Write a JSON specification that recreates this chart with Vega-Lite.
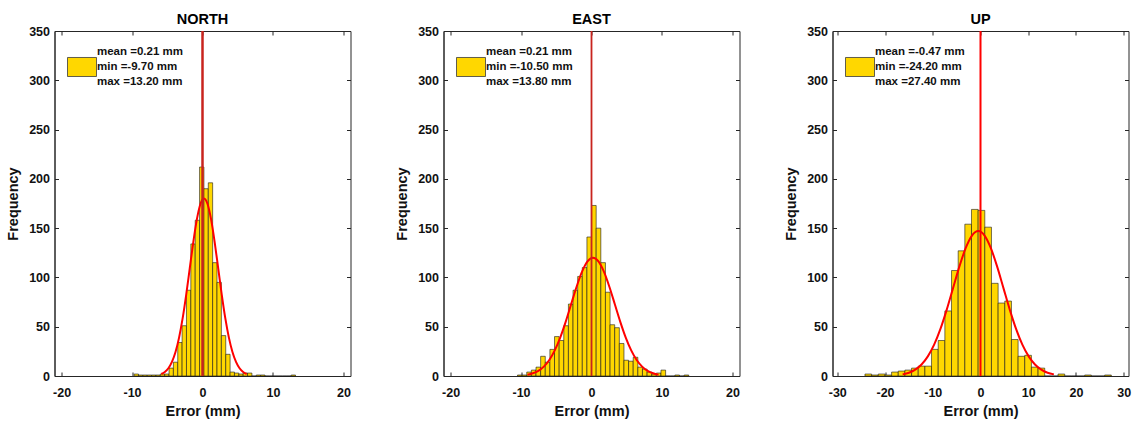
{
  "$schema": "https://vega.github.io/schema/vega-lite/v6.json",
  "padding": {"left": 4.5, "top": 11, "right": 0, "bottom": 0},
  "background": "white",
  "spacing": 42,
  "datasets": {
    "stats": [
      {"p": "NORTH", "label": "mean =0.21 mm|min =-9.70 mm|max =13.20 mm"},
      {"p": "EAST", "label": "mean =0.21 mm|min =-10.50 mm|max =13.80 mm"},
      {"p": "UP", "label": "mean =-0.47 mm|min =-24.20 mm|max =27.40 mm"}
    ],
    "bars": [
      {"p":"NORTH","x0":-9.700,"x1":-9.081,"n":2},
      {"p":"NORTH","x0":-9.081,"x1":-8.462,"n":1},
      {"p":"NORTH","x0":-8.462,"x1":-7.843,"n":1},
      {"p":"NORTH","x0":-7.843,"x1":-7.224,"n":1},
      {"p":"NORTH","x0":-7.224,"x1":-6.605,"n":1},
      {"p":"NORTH","x0":-6.605,"x1":-5.986,"n":1},
      {"p":"NORTH","x0":-5.986,"x1":-5.368,"n":2},
      {"p":"NORTH","x0":-5.368,"x1":-4.749,"n":2},
      {"p":"NORTH","x0":-4.749,"x1":-4.130,"n":8},
      {"p":"NORTH","x0":-4.130,"x1":-3.511,"n":14},
      {"p":"NORTH","x0":-3.511,"x1":-2.892,"n":34},
      {"p":"NORTH","x0":-2.892,"x1":-2.273,"n":51},
      {"p":"NORTH","x0":-2.273,"x1":-1.654,"n":87},
      {"p":"NORTH","x0":-1.654,"x1":-1.035,"n":134},
      {"p":"NORTH","x0":-1.035,"x1":-0.416,"n":158},
      {"p":"NORTH","x0":-0.416,"x1":0.203,"n":212},
      {"p":"NORTH","x0":0.203,"x1":0.822,"n":190},
      {"p":"NORTH","x0":0.822,"x1":1.441,"n":196},
      {"p":"NORTH","x0":1.441,"x1":2.059,"n":115},
      {"p":"NORTH","x0":2.059,"x1":2.678,"n":95},
      {"p":"NORTH","x0":2.678,"x1":3.297,"n":41},
      {"p":"NORTH","x0":3.297,"x1":3.916,"n":22},
      {"p":"NORTH","x0":3.916,"x1":4.535,"n":4},
      {"p":"NORTH","x0":4.535,"x1":5.154,"n":3},
      {"p":"NORTH","x0":5.154,"x1":5.773,"n":2},
      {"p":"NORTH","x0":5.773,"x1":6.392,"n":3},
      {"p":"NORTH","x0":6.392,"x1":7.011,"n":3},
      {"p":"NORTH","x0":7.011,"x1":7.630,"n":0},
      {"p":"NORTH","x0":7.630,"x1":8.249,"n":1},
      {"p":"NORTH","x0":8.249,"x1":8.868,"n":1},
      {"p":"NORTH","x0":8.868,"x1":9.486,"n":0},
      {"p":"NORTH","x0":9.486,"x1":10.105,"n":0},
      {"p":"NORTH","x0":10.105,"x1":10.724,"n":0},
      {"p":"NORTH","x0":10.724,"x1":11.343,"n":0},
      {"p":"NORTH","x0":11.343,"x1":11.962,"n":0},
      {"p":"NORTH","x0":11.962,"x1":12.581,"n":0},
      {"p":"NORTH","x0":12.581,"x1":13.200,"n":1},
      {"p":"EAST","x0":-10.500,"x1":-9.843,"n":1},
      {"p":"EAST","x0":-9.843,"x1":-9.186,"n":1},
      {"p":"EAST","x0":-9.186,"x1":-8.530,"n":4},
      {"p":"EAST","x0":-8.530,"x1":-7.873,"n":6},
      {"p":"EAST","x0":-7.873,"x1":-7.216,"n":9},
      {"p":"EAST","x0":-7.216,"x1":-6.559,"n":20},
      {"p":"EAST","x0":-6.559,"x1":-5.903,"n":14},
      {"p":"EAST","x0":-5.903,"x1":-5.246,"n":27},
      {"p":"EAST","x0":-5.246,"x1":-4.589,"n":40},
      {"p":"EAST","x0":-4.589,"x1":-3.932,"n":36},
      {"p":"EAST","x0":-3.932,"x1":-3.276,"n":51},
      {"p":"EAST","x0":-3.276,"x1":-2.619,"n":73},
      {"p":"EAST","x0":-2.619,"x1":-1.962,"n":87},
      {"p":"EAST","x0":-1.962,"x1":-1.305,"n":101},
      {"p":"EAST","x0":-1.305,"x1":-0.649,"n":110},
      {"p":"EAST","x0":-0.649,"x1":0.008,"n":141},
      {"p":"EAST","x0":0.008,"x1":0.665,"n":173},
      {"p":"EAST","x0":0.665,"x1":1.322,"n":150},
      {"p":"EAST","x0":1.322,"x1":1.978,"n":115},
      {"p":"EAST","x0":1.978,"x1":2.635,"n":85},
      {"p":"EAST","x0":2.635,"x1":3.292,"n":52},
      {"p":"EAST","x0":3.292,"x1":3.949,"n":49},
      {"p":"EAST","x0":3.949,"x1":4.605,"n":33},
      {"p":"EAST","x0":4.605,"x1":5.262,"n":16},
      {"p":"EAST","x0":5.262,"x1":5.919,"n":15},
      {"p":"EAST","x0":5.919,"x1":6.576,"n":19},
      {"p":"EAST","x0":6.576,"x1":7.232,"n":9},
      {"p":"EAST","x0":7.232,"x1":7.889,"n":7},
      {"p":"EAST","x0":7.889,"x1":8.546,"n":4},
      {"p":"EAST","x0":8.546,"x1":9.203,"n":2},
      {"p":"EAST","x0":9.203,"x1":9.859,"n":3},
      {"p":"EAST","x0":9.859,"x1":10.516,"n":6},
      {"p":"EAST","x0":10.516,"x1":11.173,"n":0},
      {"p":"EAST","x0":11.173,"x1":11.830,"n":0},
      {"p":"EAST","x0":11.830,"x1":12.486,"n":1},
      {"p":"EAST","x0":12.486,"x1":13.143,"n":0},
      {"p":"EAST","x0":13.143,"x1":13.800,"n":1},
      {"p":"UP","x0":-24.200,"x1":-22.805,"n":2},
      {"p":"UP","x0":-22.805,"x1":-21.411,"n":1},
      {"p":"UP","x0":-21.411,"x1":-20.016,"n":2},
      {"p":"UP","x0":-20.016,"x1":-18.622,"n":1},
      {"p":"UP","x0":-18.622,"x1":-17.227,"n":4},
      {"p":"UP","x0":-17.227,"x1":-15.832,"n":5},
      {"p":"UP","x0":-15.832,"x1":-14.438,"n":6},
      {"p":"UP","x0":-14.438,"x1":-13.043,"n":8},
      {"p":"UP","x0":-13.043,"x1":-11.649,"n":10},
      {"p":"UP","x0":-11.649,"x1":-10.254,"n":10},
      {"p":"UP","x0":-10.254,"x1":-8.859,"n":27},
      {"p":"UP","x0":-8.859,"x1":-7.465,"n":36},
      {"p":"UP","x0":-7.465,"x1":-6.070,"n":66},
      {"p":"UP","x0":-6.070,"x1":-4.676,"n":107},
      {"p":"UP","x0":-4.676,"x1":-3.281,"n":127},
      {"p":"UP","x0":-3.281,"x1":-1.886,"n":154},
      {"p":"UP","x0":-1.886,"x1":-0.492,"n":169},
      {"p":"UP","x0":-0.492,"x1":0.903,"n":168},
      {"p":"UP","x0":0.903,"x1":2.297,"n":151},
      {"p":"UP","x0":2.297,"x1":3.692,"n":94},
      {"p":"UP","x0":3.692,"x1":5.086,"n":74},
      {"p":"UP","x0":5.086,"x1":6.481,"n":76},
      {"p":"UP","x0":6.481,"x1":7.876,"n":37},
      {"p":"UP","x0":7.876,"x1":9.270,"n":20},
      {"p":"UP","x0":9.270,"x1":10.665,"n":21},
      {"p":"UP","x0":10.665,"x1":12.059,"n":9},
      {"p":"UP","x0":12.059,"x1":13.454,"n":8},
      {"p":"UP","x0":13.454,"x1":14.849,"n":0},
      {"p":"UP","x0":14.849,"x1":16.243,"n":0},
      {"p":"UP","x0":16.243,"x1":17.638,"n":2},
      {"p":"UP","x0":17.638,"x1":19.032,"n":0},
      {"p":"UP","x0":19.032,"x1":20.427,"n":0},
      {"p":"UP","x0":20.427,"x1":21.822,"n":0},
      {"p":"UP","x0":21.822,"x1":23.216,"n":1},
      {"p":"UP","x0":23.216,"x1":24.611,"n":0},
      {"p":"UP","x0":24.611,"x1":26.005,"n":0},
      {"p":"UP","x0":26.005,"x1":27.400,"n":1}
    ],
    "curves": [
      {"p":"NORTH","x":-5.85,"y":2.0},{"p":"NORTH","x":-5.345,"y":4.1},{"p":"NORTH","x":-4.84,"y":7.91},{"p":"NORTH","x":-4.335,"y":14.32},{"p":"NORTH","x":-3.83,"y":24.36},{"p":"NORTH","x":-3.325,"y":38.93},{"p":"NORTH","x":-2.82,"y":58.44},{"p":"NORTH","x":-2.315,"y":82.41},{"p":"NORTH","x":-1.81,"y":109.18},{"p":"NORTH","x":-1.305,"y":135.87},{"p":"NORTH","x":-0.8,"y":158.85},{"p":"NORTH","x":-0.295,"y":174.46},{"p":"NORTH","x":0.21,"y":180},{"p":"NORTH","x":0.715,"y":174.46},{"p":"NORTH","x":1.22,"y":158.85},{"p":"NORTH","x":1.725,"y":135.87},{"p":"NORTH","x":2.23,"y":109.18},{"p":"NORTH","x":2.735,"y":82.41},{"p":"NORTH","x":3.24,"y":58.44},{"p":"NORTH","x":3.745,"y":38.93},{"p":"NORTH","x":4.25,"y":24.36},{"p":"NORTH","x":4.755,"y":14.32},{"p":"NORTH","x":5.26,"y":7.91},{"p":"NORTH","x":5.765,"y":4.1},{"p":"NORTH","x":6.27,"y":2.0},
      {"p":"EAST","x":-9.09,"y":1.33},{"p":"EAST","x":-8.315,"y":2.74},{"p":"EAST","x":-7.54,"y":5.27},{"p":"EAST","x":-6.765,"y":9.55},{"p":"EAST","x":-5.99,"y":16.24},{"p":"EAST","x":-5.215,"y":25.95},{"p":"EAST","x":-4.44,"y":38.96},{"p":"EAST","x":-3.665,"y":54.94},{"p":"EAST","x":-2.89,"y":72.78},{"p":"EAST","x":-2.115,"y":90.58},{"p":"EAST","x":-1.34,"y":105.9},{"p":"EAST","x":-0.565,"y":116.31},{"p":"EAST","x":0.21,"y":120},{"p":"EAST","x":0.985,"y":116.31},{"p":"EAST","x":1.76,"y":105.9},{"p":"EAST","x":2.535,"y":90.58},{"p":"EAST","x":3.31,"y":72.78},{"p":"EAST","x":4.085,"y":54.94},{"p":"EAST","x":4.86,"y":38.96},{"p":"EAST","x":5.635,"y":25.95},{"p":"EAST","x":6.41,"y":16.24},{"p":"EAST","x":7.185,"y":9.55},{"p":"EAST","x":7.96,"y":5.27},{"p":"EAST","x":8.735,"y":2.74},{"p":"EAST","x":9.51,"y":1.33},
      {"p":"UP","x":-16.31,"y":1.63},{"p":"UP","x":-14.99,"y":3.35},{"p":"UP","x":-13.67,"y":6.46},{"p":"UP","x":-12.35,"y":11.7},{"p":"UP","x":-11.03,"y":19.9},{"p":"UP","x":-9.71,"y":31.79},{"p":"UP","x":-8.39,"y":47.72},{"p":"UP","x":-7.07,"y":67.3},{"p":"UP","x":-5.75,"y":89.16},{"p":"UP","x":-4.43,"y":110.96},{"p":"UP","x":-3.11,"y":129.73},{"p":"UP","x":-1.79,"y":142.48},{"p":"UP","x":-0.47,"y":147},{"p":"UP","x":0.85,"y":142.48},{"p":"UP","x":2.17,"y":129.73},{"p":"UP","x":3.49,"y":110.96},{"p":"UP","x":4.81,"y":89.16},{"p":"UP","x":6.13,"y":67.3},{"p":"UP","x":7.45,"y":47.72},{"p":"UP","x":8.77,"y":31.79},{"p":"UP","x":10.09,"y":19.9},{"p":"UP","x":11.41,"y":11.7},{"p":"UP","x":12.73,"y":6.46},{"p":"UP","x":14.05,"y":3.35},{"p":"UP","x":15.37,"y":1.63}
    ],
    "vlines": [
      {"p": "NORTH", "x": 0},
      {"p": "EAST", "x": 0},
      {"p": "UP", "x": 0}
    ]
  },
  "config": {
    "view": {"stroke": "#262626", "strokeWidth": 1},
    "axis": {
      "grid": false,
      "labelFont": "Liberation Sans", "labelFontWeight": "bold", "labelFontSize": 12.5, "labelColor": "#111111",
      "titleFont": "Liberation Sans", "titleFontWeight": "bold", "titleFontSize": 14.5, "titleColor": "#111111",
      "domainColor": "#262626", "tickColor": "#262626", "tickSize": -4, "labelPadding": 9,
      "labelExpr": "datum.value < 0 ? '-' + abs(datum.value) : '' + datum.value"
    },
    "axisX": {"labelPadding": 14},
    "title": {"font": "Liberation Sans", "fontWeight": "bold", "fontSize": 14.5, "color": "#000000", "offset": -2},
    "legend": {
      "title": null, "orient": "none", "legendX": 12.5, "legendY": 6, "padding": 0,
      "symbolType": "M-1,0.379H1V1.69H-1Z", "symbolSize": 841,
      "symbolStrokeColor": "#3a3a3a", "symbolStrokeWidth": 0.8,
      "labelFont": "Liberation Sans", "labelFontWeight": "bold", "labelFontSize": 11.5, "labelColor": "#111111",
      "labelOffset": 0, "labelLimit": 400
    }
  },
  "resolve": {"scale": {"x": "independent", "y": "independent", "color": "independent"}},
  "hconcat": [
    {
      "title": "NORTH", "width": 296, "height": 345,
      "resolve": {"axis": {"x": "independent", "y": "independent"}},
      "layer": [
        {
          "data": {"name": "bars"},
          "transform": [{"filter": "datum.p === 'NORTH'"}, {"lookup": "p", "from": {"data": {"name": "stats"}, "key": "p", "fields": ["label"]}}],
          "mark": {"type": "rect", "stroke": "#1a1a1a", "strokeWidth": 0.6},
          "encoding": {
            "x": {"field": "x0", "type": "quantitative", "scale": {"domain": [-21, 21], "nice": false, "zero": false}, "axis": {"values": [-20, -10, 0, 10, 20], "title": "Error (mm)", "titlePadding": 6}},
            "x2": {"field": "x1"},
            "y": {"field": "n", "type": "quantitative", "scale": {"domain": [0, 350], "nice": false}, "axis": {"values": [0, 50, 100, 150, 200, 250, 300, 350], "title": "Frequency", "titlePadding": 8}},
            "y2": {"datum": 0},
            "color": {"field": "label", "type": "nominal", "scale": {"range": ["#FFD700"]}, "legend": {"labelExpr": "split(datum.label, '|')", "encode": {"labels": {"update": {"lineHeight": {"value": 15}}}}}}
          }
        },
        {
          "data": {"name": "curves"},
          "transform": [{"filter": "datum.p === 'NORTH'"}],
          "mark": {"type": "line", "color": "#FF0000", "strokeWidth": 2, "interpolate": "monotone"},
          "encoding": {
            "x": {"field": "x", "type": "quantitative", "axis": null},
            "y": {"field": "y", "type": "quantitative", "axis": {"orient": "right", "labels": false, "title": null, "domain": false, "values": [0, 50, 100, 150, 200, 250, 300, 350]}}
          }
        },
        {
          "data": {"name": "vlines"},
          "transform": [{"filter": "datum.p === 'NORTH'"}],
          "mark": {"type": "rule", "color": "#C8241E", "strokeWidth": 2.5},
          "encoding": {
            "x": {"field": "x", "type": "quantitative", "axis": {"orient": "top", "labels": false, "title": null, "domain": false, "values": [-20, -10, 0, 10, 20]}}
          }
        }
      ]
    },
    {
      "title": "EAST", "width": 296, "height": 345,
      "resolve": {"axis": {"x": "independent", "y": "independent"}},
      "layer": [
        {
          "data": {"name": "bars"},
          "transform": [{"filter": "datum.p === 'EAST'"}, {"lookup": "p", "from": {"data": {"name": "stats"}, "key": "p", "fields": ["label"]}}],
          "mark": {"type": "rect", "stroke": "#1a1a1a", "strokeWidth": 0.6},
          "encoding": {
            "x": {"field": "x0", "type": "quantitative", "scale": {"domain": [-21, 21], "nice": false, "zero": false}, "axis": {"values": [-20, -10, 0, 10, 20], "title": "Error (mm)", "titlePadding": 6}},
            "x2": {"field": "x1"},
            "y": {"field": "n", "type": "quantitative", "scale": {"domain": [0, 350], "nice": false}, "axis": {"values": [0, 50, 100, 150, 200, 250, 300, 350], "title": "Frequency", "titlePadding": 8}},
            "y2": {"datum": 0},
            "color": {"field": "label", "type": "nominal", "scale": {"range": ["#FFD700"]}, "legend": {"labelExpr": "split(datum.label, '|')", "encode": {"labels": {"update": {"lineHeight": {"value": 15}}}}}}
          }
        },
        {
          "data": {"name": "curves"},
          "transform": [{"filter": "datum.p === 'EAST'"}],
          "mark": {"type": "line", "color": "#FF0000", "strokeWidth": 2, "interpolate": "monotone"},
          "encoding": {
            "x": {"field": "x", "type": "quantitative", "axis": null},
            "y": {"field": "y", "type": "quantitative", "axis": {"orient": "right", "labels": false, "title": null, "domain": false, "values": [0, 50, 100, 150, 200, 250, 300, 350]}}
          }
        },
        {
          "data": {"name": "vlines"},
          "transform": [{"filter": "datum.p === 'EAST'"}],
          "mark": {"type": "rule", "color": "#C8241E", "strokeWidth": 1.8},
          "encoding": {
            "x": {"field": "x", "type": "quantitative", "axis": {"orient": "top", "labels": false, "title": null, "domain": false, "values": [-20, -10, 0, 10, 20]}}
          }
        }
      ]
    },
    {
      "title": "UP", "width": 296, "height": 345,
      "resolve": {"axis": {"x": "independent", "y": "independent"}},
      "layer": [
        {
          "data": {"name": "bars"},
          "transform": [{"filter": "datum.p === 'UP'"}, {"lookup": "p", "from": {"data": {"name": "stats"}, "key": "p", "fields": ["label"]}}],
          "mark": {"type": "rect", "stroke": "#1a1a1a", "strokeWidth": 0.6},
          "encoding": {
            "x": {"field": "x0", "type": "quantitative", "scale": {"domain": [-31, 31], "nice": false, "zero": false}, "axis": {"values": [-30, -20, -10, 0, 10, 20, 30], "title": "Error (mm)", "titlePadding": 6}},
            "x2": {"field": "x1"},
            "y": {"field": "n", "type": "quantitative", "scale": {"domain": [0, 350], "nice": false}, "axis": {"values": [0, 50, 100, 150, 200, 250, 300, 350], "title": "Frequency", "titlePadding": 8}},
            "y2": {"datum": 0},
            "color": {"field": "label", "type": "nominal", "scale": {"range": ["#FFD700"]}, "legend": {"labelExpr": "split(datum.label, '|')", "encode": {"labels": {"update": {"lineHeight": {"value": 15}}}}}}
          }
        },
        {
          "data": {"name": "curves"},
          "transform": [{"filter": "datum.p === 'UP'"}],
          "mark": {"type": "line", "color": "#FF0000", "strokeWidth": 2, "interpolate": "monotone"},
          "encoding": {
            "x": {"field": "x", "type": "quantitative", "axis": null},
            "y": {"field": "y", "type": "quantitative", "axis": {"orient": "right", "labels": false, "title": null, "domain": false, "values": [0, 50, 100, 150, 200, 250, 300, 350]}}
          }
        },
        {
          "data": {"name": "vlines"},
          "transform": [{"filter": "datum.p === 'UP'"}],
          "mark": {"type": "rule", "color": "#FF0000", "strokeWidth": 2},
          "encoding": {
            "x": {"field": "x", "type": "quantitative", "axis": {"orient": "top", "labels": false, "title": null, "domain": false, "values": [-30, -20, -10, 0, 10, 20, 30]}}
          }
        }
      ]
    }
  ]
}
